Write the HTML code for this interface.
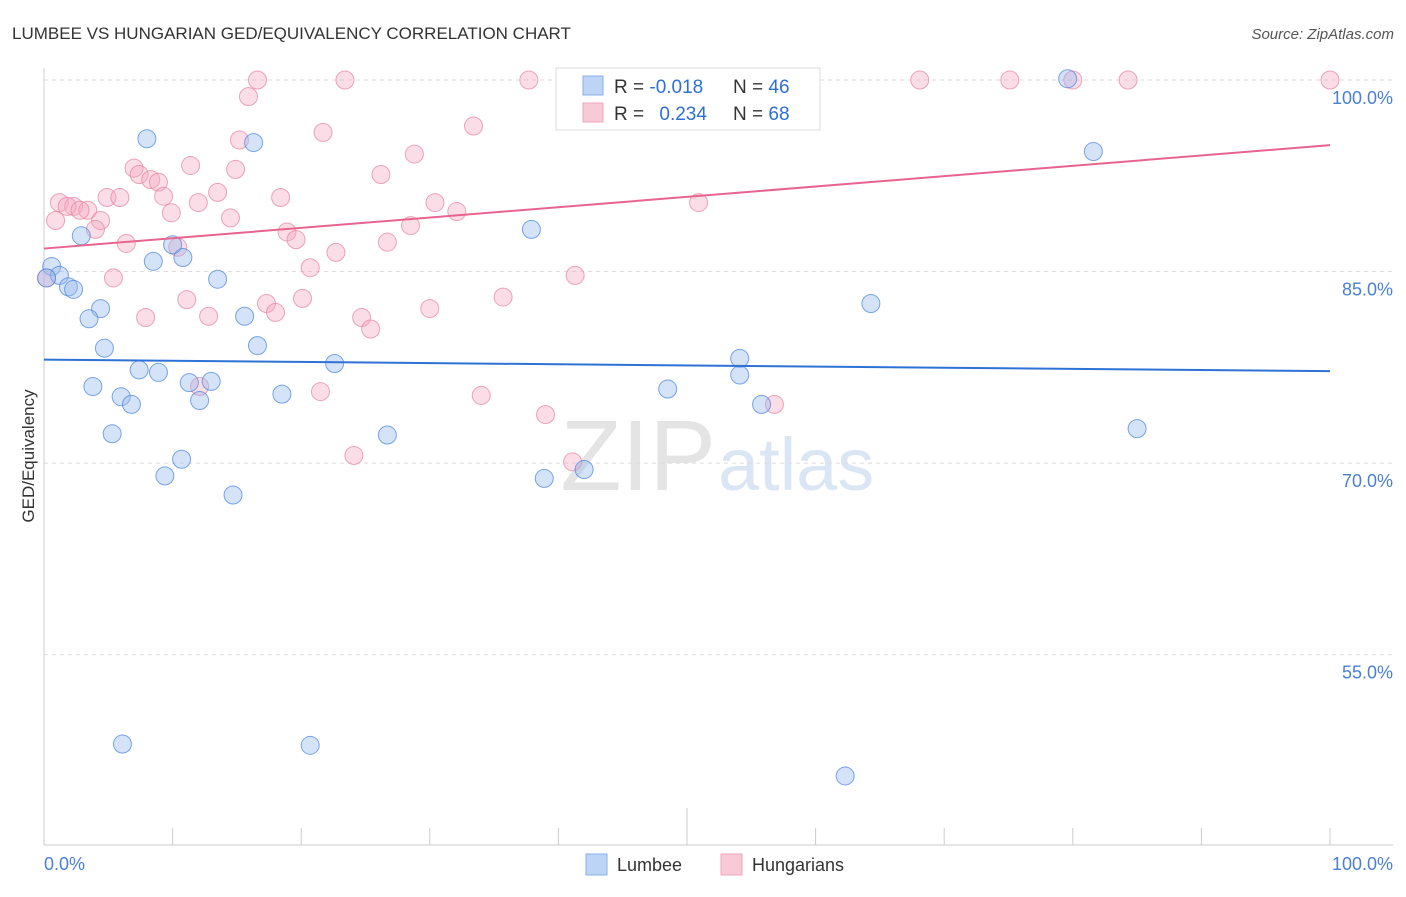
<!DOCTYPE html>
<html><head><meta charset="utf-8"><style>
body{margin:0;background:#fff;font-family:"Liberation Sans",sans-serif}
svg text{font-family:"Liberation Sans",sans-serif}
</style></head><body>
<svg id="c" width="1406" height="892" xmlns="http://www.w3.org/2000/svg">
<text x="12" y="39" font-size="17" fill="#333">LUMBEE VS HUNGARIAN GED/EQUIVALENCY CORRELATION CHART</text>
<text x="1394" y="39" font-size="15" fill="#555" text-anchor="end" font-style="italic">Source: ZipAtlas.com</text>
<text x="716" y="490" font-size="100" fill="#e4e4e4" text-anchor="end" font-family="Liberation Serif">ZIP</text>
<text x="718" y="490" font-size="74" fill="#dbe6f5">atlas</text>
<g id="grid"></g>
<line x1="44" y1="68" x2="44" y2="845" stroke="#ccc"/>
<line x1="44" y1="845" x2="1393" y2="845" stroke="#ccc"/>
<text transform="translate(34,456) rotate(-90)" font-size="17" fill="#333" text-anchor="middle">GED/Equivalency</text>
<text x="44" y="870" font-size="18" fill="#4a7fd4">0.0%</text>
<text x="1393" y="870" font-size="18" fill="#4a7fd4" text-anchor="end">100.0%</text>
<g id="pts"></g>
<g id="trend"></g>
<g>
<rect x="556" y="68" width="264" height="62" fill="#fff" stroke="#ddd"/>
<rect x="583" y="76" width="20" height="19" fill="#bcd4f5" stroke="#8ab0e8"/>
<rect x="583" y="103" width="20" height="19" fill="#f8c9d6" stroke="#eea7bb"/>
<text x="614" y="93" font-size="19" fill="#333">R = <tspan fill="#2e6fd4">-0.018</tspan></text>
<text x="733" y="93" font-size="19" fill="#333">N = <tspan fill="#2e6fd4">46</tspan></text>
<text x="614" y="120" font-size="19" fill="#333">R = <tspan fill="#2e6fd4" dx="10">0.234</tspan></text>
<text x="733" y="120" font-size="19" fill="#333">N = <tspan fill="#2e6fd4">68</tspan></text>
</g>
<g><rect x="586" y="854" width="21" height="21" fill="#bcd4f5" stroke="#8ab0e8"/><text x="617" y="871" font-size="18" fill="#333">Lumbee</text></g>
<g><rect x="721" y="854" width="21" height="21" fill="#f8c9d6" stroke="#eea7bb"/><text x="752" y="871" font-size="18" fill="#333">Hungarians</text></g>
</svg>
<script>
const yTicks=[100,85,70,55];
const xTicks=[0,10,20,30,40,50,60,70,80,90,100];
const lumbeeX=[8.0,16.3,2.9,8.5,10.8,10.0,13.5,0.6,1.2,1.9,2.3,4.4,3.5,15.6,4.7,16.6,7.4,8.9,22.6,3.8,6.0,6.8,11.3,13.0,12.1,18.5,5.3,10.7,9.4,14.7,26.7,37.9,38.9,42.0,48.5,54.1,54.1,55.8,64.3,79.6,81.6,85.0,6.1,20.7,62.3,0.2];
const lumbeeY=[95.4,95.1,87.8,85.8,86.1,87.1,84.4,85.4,84.7,83.8,83.6,82.1,81.3,81.5,79.0,79.2,77.3,77.1,77.8,76.0,75.2,74.6,76.3,76.4,74.9,75.4,72.3,70.3,69.0,67.5,72.2,88.3,68.8,69.5,75.8,78.2,76.9,74.6,82.5,100.1,94.4,72.7,48.0,47.9,45.5,84.5];
const hungX=[16.6,23.4,37.7,53.9,68.1,75.1,84.3,100,80.0,15.9,33.4,21.7,15.2,28.8,7.0,11.4,14.9,7.4,8.3,8.9,26.2,4.9,5.9,9.3,13.5,18.4,1.2,2.3,3.4,1.8,2.8,0.9,4.4,9.9,12.0,14.5,30.4,32.1,50.9,4.0,18.9,19.6,28.5,26.7,6.4,10.4,22.7,20.7,5.4,41.3,11.1,17.3,20.1,18.0,35.7,30.0,7.9,12.8,24.7,25.4,21.5,34.0,39.0,56.8,24.1,41.1,0.2,12.1];
const hungY=[100,100,100,100,100,100,100,100,100,98.7,96.4,95.9,95.3,94.2,93.1,93.3,93.0,92.6,92.2,92.0,92.6,90.8,90.8,90.9,91.2,90.8,90.4,90.1,89.8,90.1,89.8,89.0,89.0,89.6,90.4,89.2,90.4,89.7,90.4,88.3,88.1,87.5,88.6,87.3,87.2,86.9,86.5,85.3,84.5,84.7,82.8,82.5,82.9,81.8,83.0,82.1,81.4,81.5,81.4,80.5,75.6,75.3,73.8,74.6,70.6,70.1,84.5,76.0];
const lumbeeTrend=[78.1,77.2];
const hungTrend=[86.8,94.9];
const X=v=>44+v*12.86, Y=v=>80+(100-v)*12.77;
const NS='http://www.w3.org/2000/svg';
const grid=document.getElementById('grid');
yTicks.forEach(t=>{
 const l=document.createElementNS(NS,'line');
 l.setAttribute('x1',44);l.setAttribute('x2',1393);l.setAttribute('y1',Y(t));l.setAttribute('y2',Y(t));
 l.setAttribute('stroke','#ddd');l.setAttribute('stroke-dasharray','4,4');
 
 
 grid.appendChild(l);
 const tx=document.createElementNS(NS,'text');
 tx.setAttribute('x',1393);tx.setAttribute('y',Y(t)+24);tx.setAttribute('text-anchor','end');
 tx.setAttribute('font-size','18');tx.setAttribute('fill','#4a7fd4');
 tx.textContent=t.toFixed(1)+'%';
 
 
 grid.appendChild(tx);
});
xTicks.forEach(t=>{
 if(t===0)return;
 const l=document.createElementNS(NS,'line');
 l.setAttribute('x1',X(t));l.setAttribute('x2',X(t));l.setAttribute('y1',t===50?808:828);l.setAttribute('y2',845);
 l.setAttribute('stroke','#ccc');
 
 
 grid.appendChild(l);
});
const pts=document.getElementById('pts');
function dots(xs,ys,fill,stroke,name){
 xs.forEach((x,i)=>{
  const c=document.createElementNS(NS,'circle');
  c.setAttribute('cx',X(x));c.setAttribute('cy',Y(ys[i]));c.setAttribute('r',9);
  c.setAttribute('fill',fill);c.setAttribute('stroke',stroke);c.setAttribute('stroke-width','1');
  
  
  pts.appendChild(c);
 });
}
dots(hungX,hungY,'rgba(245,170,195,0.4)','rgba(230,130,160,0.7)','hungarian-point');
dots(lumbeeX,lumbeeY,'rgba(150,185,240,0.4)','rgba(70,130,220,0.7)','lumbee-point');
const tr=document.getElementById('trend');
function line(v,col,name){
 const l=document.createElementNS(NS,'line');
 l.setAttribute('x1',X(0));l.setAttribute('x2',X(100));l.setAttribute('y1',Y(v[0]));l.setAttribute('y2',Y(v[1]));
 l.setAttribute('stroke',col);l.setAttribute('stroke-width','2');
 
 
 tr.appendChild(l);
}
line(lumbeeTrend,'#2f72d6','lumbee-trendline');
line(hungTrend,'#e8648e','hungarian-trendline');
</script>
</body></html>
